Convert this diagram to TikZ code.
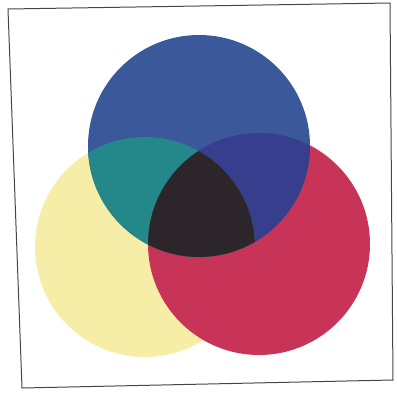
\documentclass[tikz,border=0pt]{standalone}
\usepackage{xcolor}
\usetikzlibrary{calc}
\definecolor{bluefilter}{RGB}{58,88,154}
\definecolor{yellowfilter}{RGB}{246,238,166}
\definecolor{redfilter}{RGB}{200,52,88}
\definecolor{tealmix}{RGB}{36,136,138}
\definecolor{violetmix}{RGB}{56,62,142}
\definecolor{blackmix}{RGB}{44,38,42}
\definecolor{framecolor}{RGB}{70,70,70}
\begin{document}
\begin{tikzpicture}[x=0.5pt, y=-0.5pt,
    disc/.style={draw=none},
    frame/.style={draw=framecolor, line width=0.5pt}]

    \useasboundingbox (0,0) rectangle (397,392);

    % Centres of the three filters
    \coordinate (yellowc) at (145,247);
    \coordinate (redc) at (259,244);
    \coordinate (bluec) at (199,146);

    % Frame of the scan
    \coordinate (tl) at (8,9);
    \coordinate (tr) at (390,3);
    \coordinate (br) at (393,380);
    \coordinate (bl) at (22,388);
    \draw [frame] (tl) -- (tr) -- (br) -- (bl) -- cycle;

    % Filters
    \fill [disc, yellowfilter] (yellowc) circle (110);
    \fill [disc, redfilter] (redc) circle (111);
    \fill [disc, bluefilter] (bluec) circle (111);

    % Mixtures
    \begin{scope}
        \clip (bluec) circle (111);
        \fill [violetmix] (redc) circle (111);
        \fill [tealmix] (yellowc) circle (110);
        \clip (redc) circle (111);
        \fill [blackmix] (yellowc) circle (110);
    \end{scope}

\end{tikzpicture}
\end{document}
